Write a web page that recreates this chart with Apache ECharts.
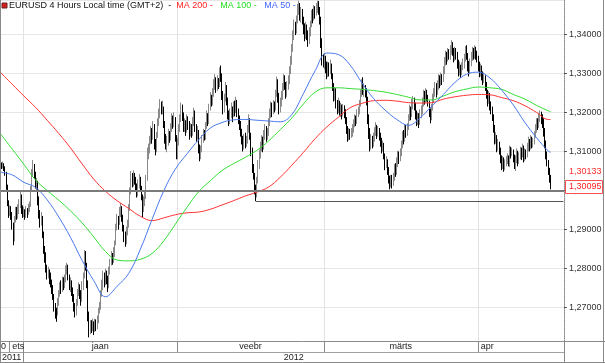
<!DOCTYPE html>
<html><head><meta charset="utf-8">
<script src="https://cdn.jsdelivr.net/npm/echarts@6/dist/echarts.min.js"></script>
<style>html,body{margin:0;padding:0;background:#fff}#c{width:605px;height:363px}</style>
</head><body><div id="c"></div>
<script>
// ---- data: 4-hour bars, each [close, high, low]; open = previous close ----
const firstOpen = 1.3065;
const bars = [
// Dec 27 (last two bars)
[1.3068,1.3075,1.3058],[1.3062,1.3072,1.3055],
// Dec 28
[1.3066,1.3074,1.3056],[1.3058,1.3070,1.3050],[1.3045,1.3062,1.3038],[1.3010,1.3048,1.3002],[1.2968,1.3015,1.2960],[1.2942,1.2975,1.2930],
// Dec 29
[1.2955,1.2962,1.2935],[1.2938,1.2960,1.2925],[1.2912,1.2945,1.2900],[1.2878,1.2918,1.2860],[1.2925,1.2935,1.2870],[1.2948,1.2958,1.2918],
// Dec 30
[1.2935,1.2958,1.2925],[1.2952,1.2965,1.2928],[1.2968,1.2978,1.2940],[1.2985,1.2998,1.2955],[1.2950,1.2990,1.2940],[1.2940,1.2962,1.2930],
// Jan 2
[1.2945,1.2958,1.2932],[1.2935,1.2952,1.2925],[1.2948,1.2960,1.2930],[1.2942,1.2955,1.2930],[1.2955,1.2966,1.2938],[1.2962,1.2972,1.2945],
// Jan 3
[1.3005,1.3012,1.2958],[1.3045,1.3055,1.3000],[1.3062,1.3078,1.3035],[1.3040,1.3068,1.3030],[1.3018,1.3048,1.3005],[1.3020,1.3032,1.3000],
// Jan 4
[1.2975,1.3025,1.2962],[1.2940,1.2985,1.2928],[1.2922,1.2950,1.2905],[1.2930,1.2945,1.2910],[1.2890,1.2935,1.2878],[1.2850,1.2895,1.2838],
// Jan 5
[1.2835,1.2858,1.2815],[1.2800,1.2842,1.2790],[1.2785,1.2810,1.2772],[1.2792,1.2805,1.2775],[1.2778,1.2798,1.2760],[1.2765,1.2790,1.2752],
// Jan 6
[1.2750,1.2772,1.2735],[1.2728,1.2758,1.2720],[1.2705,1.2735,1.2690],[1.2690,1.2712,1.2672],[1.2685,1.2700,1.2664],[1.2712,1.2725,1.2680],
// Jan 9
[1.2735,1.2745,1.2705],[1.2752,1.2765,1.2728],[1.2745,1.2770,1.2735],[1.2768,1.2780,1.2740],[1.2760,1.2778,1.2745],[1.2772,1.2785,1.2750],
// Jan 10
[1.2795,1.2808,1.2765],[1.2805,1.2815,1.2785],[1.2780,1.2810,1.2770],[1.2758,1.2785,1.2745],[1.2765,1.2778,1.2740],[1.2745,1.2770,1.2730],
// Jan 11
[1.2728,1.2752,1.2715],[1.2700,1.2735,1.2690],[1.2690,1.2712,1.2675],[1.2712,1.2722,1.2680],[1.2735,1.2748,1.2705],[1.2748,1.2765,1.2730],
// Jan 12
[1.2735,1.2760,1.2722],[1.2722,1.2745,1.2705],[1.2755,1.2768,1.2715],[1.2780,1.2790,1.2745],[1.2832,1.2848,1.2775],[1.2805,1.2845,1.2795],
// Jan 13
[1.2760,1.2815,1.2750],[1.2680,1.2770,1.2665],[1.2640,1.2690,1.2624],[1.2655,1.2668,1.2632],[1.2648,1.2668,1.2635],[1.2660,1.2672,1.2640],
// Jan 16
[1.2648,1.2665,1.2630],[1.2660,1.2672,1.2638],[1.2652,1.2670,1.2640],[1.2668,1.2680,1.2645],[1.2690,1.2700,1.2660],[1.2702,1.2715,1.2685],
// Jan 17
[1.2735,1.2745,1.2695],[1.2758,1.2772,1.2728],[1.2780,1.2795,1.2745],[1.2765,1.2790,1.2752],[1.2785,1.2800,1.2758],[1.2772,1.2795,1.2760],
// Jan 18
[1.2758,1.2782,1.2740],[1.2790,1.2805,1.2750],[1.2812,1.2825,1.2785],[1.2830,1.2845,1.2808],[1.2822,1.2840,1.2810],[1.2840,1.2855,1.2815],
// Jan 19
[1.2865,1.2872,1.2830],[1.2905,1.2915,1.2860],[1.2928,1.2940,1.2898],[1.2915,1.2935,1.2900],[1.2945,1.2958,1.2912],[1.2955,1.2968,1.2932],
// Jan 20
[1.2930,1.2960,1.2920],[1.2905,1.2938,1.2895],[1.2880,1.2912,1.2868],[1.2872,1.2895,1.2856],[1.2898,1.2908,1.2862],[1.2910,1.2925,1.2885],
// Jan 23
[1.2955,1.2965,1.2905],[1.2998,1.3008,1.2948],[1.3035,1.3050,1.2990],[1.3020,1.3045,1.3008],[1.3038,1.3052,1.3010],[1.3025,1.3045,1.3015],
// Jan 24
[1.3010,1.3035,1.2998],[1.2992,1.3018,1.2982],[1.3015,1.3028,1.2985],[1.3030,1.3042,1.3005],[1.3008,1.3035,1.2998],[1.2985,1.3012,1.2975],
// Jan 25
[1.2950,1.2990,1.2932],[1.2972,1.2985,1.2945],[1.2985,1.2998,1.2960],[1.3030,1.3040,1.2978],[1.3098,1.3110,1.3025],[1.3105,1.3120,1.3080],
// Jan 26
[1.3125,1.3140,1.3095],[1.3150,1.3165,1.3118],[1.3135,1.3160,1.3120],[1.3165,1.3178,1.3130],[1.3120,1.3170,1.3105],[1.3105,1.3132,1.3090],
// Jan 27
[1.3140,1.3150,1.3098],[1.3172,1.3185,1.3135],[1.3195,1.3210,1.3165],[1.3222,1.3234,1.3185],[1.3205,1.3228,1.3195],[1.3215,1.3230,1.3195],
// Jan 30
[1.3170,1.3212,1.3160],[1.3135,1.3178,1.3120],[1.3118,1.3145,1.3105],[1.3125,1.3140,1.3098],[1.3145,1.3158,1.3115],[1.3135,1.3152,1.3122],
// Jan 31
[1.3160,1.3172,1.3128],[1.3185,1.3198,1.3150],[1.3170,1.3192,1.3158],[1.3182,1.3200,1.3162],[1.3135,1.3188,1.3125],[1.3088,1.3142,1.3080],
// Feb 1
[1.3125,1.3135,1.3080],[1.3158,1.3170,1.3115],[1.3185,1.3195,1.3150],[1.3210,1.3225,1.3175],[1.3190,1.3220,1.3178],[1.3162,1.3200,1.3150],
// Feb 2
[1.3172,1.3185,1.3150],[1.3155,1.3180,1.3140],[1.3182,1.3195,1.3148],[1.3168,1.3190,1.3155],[1.3145,1.3178,1.3130],[1.3160,1.3172,1.3138],
// Feb 3
[1.3148,1.3170,1.3135],[1.3175,1.3188,1.3140],[1.3198,1.3212,1.3165],[1.3160,1.3205,1.3150],[1.3140,1.3170,1.3125],[1.3155,1.3165,1.3130],
// Feb 6
[1.3110,1.3140,1.3095],[1.3088,1.3118,1.3075],[1.3105,1.3115,1.3080],[1.3130,1.3142,1.3098],[1.3145,1.3158,1.3122],[1.3138,1.3155,1.3128],
// Feb 7
[1.3165,1.3175,1.3130],[1.3190,1.3205,1.3158],[1.3175,1.3198,1.3165],[1.3210,1.3222,1.3170],[1.3238,1.3252,1.3205],[1.3225,1.3245,1.3215],
// Feb 8
[1.3252,1.3262,1.3218],[1.3270,1.3285,1.3240],[1.3285,1.3298,1.3258],[1.3262,1.3290,1.3250],[1.3280,1.3295,1.3255],[1.3272,1.3288,1.3260],
// Feb 9
[1.3300,1.3315,1.3265],[1.3290,1.3320,1.3278],[1.3245,1.3300,1.3232],[1.3210,1.3255,1.3195],[1.3235,1.3248,1.3200],[1.3265,1.3278,1.3228],
// Feb 10
[1.3230,1.3270,1.3218],[1.3195,1.3238,1.3182],[1.3180,1.3205,1.3165],[1.3195,1.3210,1.3170],[1.3210,1.3225,1.3185],[1.3190,1.3215,1.3175],
// Feb 13
[1.3215,1.3228,1.3188],[1.3205,1.3230,1.3190],[1.3225,1.3240,1.3198],[1.3200,1.3232,1.3188],[1.3185,1.3210,1.3170],[1.3170,1.3192,1.3155],
// Feb 14
[1.3150,1.3178,1.3138],[1.3130,1.3158,1.3118],[1.3112,1.3140,1.3100],[1.3135,1.3145,1.3105],[1.3120,1.3148,1.3108],[1.3128,1.3140,1.3112],
// Feb 15
[1.3155,1.3168,1.3120],[1.3175,1.3195,1.3148],[1.3140,1.3185,1.3130],[1.3100,1.3148,1.3088],[1.3060,1.3110,1.3045],[1.3040,1.3068,1.3028],
// Feb 16
[1.3005,1.3045,1.2990],[1.2985,1.3015,1.2973],[1.3025,1.3035,1.2982],[1.3065,1.3078,1.3018],[1.3090,1.3105,1.3055],[1.3115,1.3125,1.3082],
// Feb 17
[1.3130,1.3142,1.3100],[1.3110,1.3138,1.3098],[1.3142,1.3155,1.3105],[1.3158,1.3170,1.3130],[1.3135,1.3165,1.3125],[1.3145,1.3160,1.3130],
// Feb 20
[1.3172,1.3185,1.3140],[1.3195,1.3210,1.3165],[1.3210,1.3228,1.3185],[1.3198,1.3225,1.3188],[1.3220,1.3232,1.3195],[1.3212,1.3228,1.3200],
// Feb 21
[1.3245,1.3258,1.3205],[1.3275,1.3292,1.3240],[1.3240,1.3285,1.3225],[1.3210,1.3250,1.3195],[1.3225,1.3238,1.3200],[1.3240,1.3255,1.3215],
// Feb 22
[1.3262,1.3275,1.3232],[1.3285,1.3298,1.3255],[1.3270,1.3295,1.3258],[1.3248,1.3278,1.3235],[1.3265,1.3280,1.3240],[1.3280,1.3295,1.3258],
// Feb 23
[1.3305,1.3318,1.3272],[1.3330,1.3345,1.3298],[1.3362,1.3375,1.3322],[1.3395,1.3410,1.3355],[1.3420,1.3438,1.3385],[1.3410,1.3432,1.3398],
// Feb 24
[1.3435,1.3448,1.3402],[1.3462,1.3478,1.3428],[1.3475,1.3486,1.3450],[1.3448,1.3480,1.3435],[1.3458,1.3470,1.3430],[1.3440,1.3465,1.3425],
// Feb 27
[1.3415,1.3445,1.3400],[1.3395,1.3428,1.3382],[1.3420,1.3432,1.3388],[1.3398,1.3425,1.3385],[1.3380,1.3410,1.3368],[1.3405,1.3418,1.3375],
// Feb 28
[1.3425,1.3435,1.3395],[1.3450,1.3462,1.3418],[1.3440,1.3465,1.3428],[1.3462,1.3475,1.3435],[1.3455,1.3472,1.3440],[1.3468,1.3480,1.3448],
// Feb 29
[1.3475,1.3486,1.3455],[1.3462,1.3485,1.3450],[1.3440,1.3470,1.3425],[1.3380,1.3445,1.3365],[1.3335,1.3390,1.3320],[1.3330,1.3350,1.3315],
// Mar 1
[1.3330,1.3352,1.3310],[1.3318,1.3345,1.3300],[1.3300,1.3330,1.3285],[1.3315,1.3330,1.3290],[1.3305,1.3328,1.3292],[1.3320,1.3335,1.3298],
// Mar 2
[1.3295,1.3325,1.3285],[1.3268,1.3300,1.3255],[1.3240,1.3275,1.3228],[1.3255,1.3265,1.3230],[1.3220,1.3262,1.3210],[1.3210,1.3232,1.3195],
// Mar 5
[1.3225,1.3238,1.3198],[1.3205,1.3230,1.3192],[1.3215,1.3225,1.3188],[1.3198,1.3220,1.3182],[1.3210,1.3222,1.3190],[1.3200,1.3218,1.3185],
// Mar 6
[1.3180,1.3208,1.3170],[1.3160,1.3188,1.3145],[1.3135,1.3165,1.3125],[1.3150,1.3160,1.3128],[1.3140,1.3158,1.3130],[1.3148,1.3160,1.3135],
// Mar 7
[1.3158,1.3170,1.3138],[1.3170,1.3182,1.3148],[1.3185,1.3195,1.3162],[1.3175,1.3192,1.3165],[1.3195,1.3208,1.3170],[1.3202,1.3215,1.3188],
// Mar 8
[1.3220,1.3232,1.3195],[1.3245,1.3258,1.3215],[1.3272,1.3285,1.3240],[1.3255,1.3290,1.3245],[1.3262,1.3275,1.3240],[1.3250,1.3270,1.3238],
// Mar 9
[1.3230,1.3262,1.3218],[1.3185,1.3240,1.3170],[1.3150,1.3195,1.3132],[1.3115,1.3160,1.3100],[1.3130,1.3145,1.3105],[1.3120,1.3140,1.3108],
// Mar 12
[1.3135,1.3148,1.3112],[1.3150,1.3162,1.3125],[1.3162,1.3175,1.3140],[1.3145,1.3168,1.3132],[1.3155,1.3165,1.3138],[1.3140,1.3160,1.3128],
// Mar 13
[1.3125,1.3148,1.3112],[1.3108,1.3135,1.3095],[1.3118,1.3128,1.3100],[1.3090,1.3122,1.3080],[1.3065,1.3095,1.3052],[1.3075,1.3088,1.3058],
// Mar 14
[1.3052,1.3080,1.3040],[1.3028,1.3060,1.3018],[1.3012,1.3038,1.3003],[1.3030,1.3040,1.3008],[1.3020,1.3040,1.3005],[1.3035,1.3045,1.3012],
// Mar 15
[1.3058,1.3068,1.3025],[1.3045,1.3070,1.3035],[1.3075,1.3085,1.3040],[1.3090,1.3102,1.3060],[1.3080,1.3100,1.3068],[1.3095,1.3108,1.3075],
// Mar 16
[1.3115,1.3128,1.3088],[1.3140,1.3152,1.3108],[1.3130,1.3155,1.3118],[1.3158,1.3170,1.3125],[1.3145,1.3168,1.3135],[1.3160,1.3172,1.3140],
// Mar 19
[1.3185,1.3195,1.3155],[1.3205,1.3220,1.3178],[1.3190,1.3215,1.3180],[1.3220,1.3235,1.3188],[1.3230,1.3242,1.3208],[1.3218,1.3238,1.3205],
// Mar 20
[1.3195,1.3225,1.3182],[1.3178,1.3205,1.3165],[1.3190,1.3200,1.3168],[1.3172,1.3198,1.3160],[1.3195,1.3208,1.3168],[1.3205,1.3218,1.3185],
// Mar 21
[1.3225,1.3238,1.3195],[1.3245,1.3258,1.3215],[1.3230,1.3255,1.3220],[1.3250,1.3262,1.3225],[1.3238,1.3258,1.3228],[1.3225,1.3245,1.3215],
// Mar 22
[1.3200,1.3230,1.3188],[1.3185,1.3210,1.3172],[1.3210,1.3222,1.3180],[1.3235,1.3248,1.3205],[1.3250,1.3262,1.3225],[1.3265,1.3278,1.3240],
// Mar 23
[1.3252,1.3275,1.3238],[1.3270,1.3282,1.3245],[1.3285,1.3298,1.3258],[1.3275,1.3295,1.3262],[1.3290,1.3302,1.3268],[1.3280,1.3298,1.3270],
// Mar 26
[1.3305,1.3318,1.3278],[1.3330,1.3342,1.3298],[1.3345,1.3358,1.3320],[1.3335,1.3355,1.3322],[1.3352,1.3365,1.3330],[1.3345,1.3362,1.3335],
// Mar 27
[1.3360,1.3372,1.3335],[1.3372,1.3385,1.3348],[1.3358,1.3380,1.3345],[1.3340,1.3365,1.3328],[1.3355,1.3368,1.3332],[1.3348,1.3365,1.3335],
// Mar 28
[1.3325,1.3355,1.3312],[1.3305,1.3335,1.3292],[1.3318,1.3330,1.3295],[1.3300,1.3322,1.3288],[1.3315,1.3328,1.3295],[1.3325,1.3338,1.3308],
// Mar 29
[1.3340,1.3350,1.3312],[1.3358,1.3370,1.3330],[1.3345,1.3372,1.3335],[1.3320,1.3352,1.3305],[1.3305,1.3332,1.3292],[1.3325,1.3338,1.3298],
// Mar 30
[1.3342,1.3355,1.3318],[1.3355,1.3368,1.3332],[1.3345,1.3365,1.3335],[1.3360,1.3372,1.3338],[1.3348,1.3368,1.3335],[1.3340,1.3358,1.3328],
// Apr 2
[1.3320,1.3345,1.3305],[1.3302,1.3330,1.3290],[1.3315,1.3325,1.3292],[1.3295,1.3320,1.3282],[1.3285,1.3305,1.3270],[1.3290,1.3302,1.3275],
// Apr 3
[1.3270,1.3295,1.3255],[1.3248,1.3278,1.3235],[1.3230,1.3258,1.3215],[1.3245,1.3255,1.3222],[1.3220,1.3250,1.3205],[1.3210,1.3228,1.3195],
// Apr 4
[1.3190,1.3215,1.3178],[1.3160,1.3195,1.3148],[1.3130,1.3168,1.3118],[1.3138,1.3150,1.3120],[1.3110,1.3142,1.3098],[1.3120,1.3132,1.3102],
// Apr 5
[1.3105,1.3125,1.3092],[1.3082,1.3110,1.3070],[1.3065,1.3090,1.3052],[1.3078,1.3088,1.3055],[1.3060,1.3085,1.3048],[1.3070,1.3080,1.3052],
// Apr 6
[1.3078,1.3088,1.3062],[1.3085,1.3095,1.3068],[1.3072,1.3090,1.3062],[1.3105,1.3115,1.3060],[1.3095,1.3112,1.3082],[1.3100,1.3110,1.3088],
// Apr 9
[1.3085,1.3105,1.3072],[1.3065,1.3092,1.3055],[1.3080,1.3090,1.3050],[1.3098,1.3108,1.3070],[1.3075,1.3102,1.3062],[1.3088,1.3098,1.3068],
// Apr 10
[1.3102,1.3112,1.3080],[1.3090,1.3110,1.3078],[1.3110,1.3120,1.3085],[1.3085,1.3115,1.3072],[1.3098,1.3108,1.3075],[1.3092,1.3105,1.3080],
// Apr 11
[1.3110,1.3122,1.3085],[1.3125,1.3138,1.3100],[1.3112,1.3132,1.3100],[1.3130,1.3142,1.3105],[1.3118,1.3138,1.3108],[1.3125,1.3135,1.3110],
// Apr 12
[1.3140,1.3152,1.3118],[1.3158,1.3170,1.3135],[1.3172,1.3185,1.3148],[1.3165,1.3185,1.3155],[1.3185,1.3198,1.3160],[1.3192,1.3205,1.3175],
// Apr 13
[1.3185,1.3202,1.3170],[1.3178,1.3195,1.3160],[1.3150,1.3185,1.3138],[1.3120,1.3160,1.3108],[1.3095,1.3128,1.3080],[1.3072,1.3100,1.3062],
// Apr 16
[1.3050,1.3078,1.3040],[1.3030,1.3058,1.3020],[1.30095,1.3040,1.3003]
];
const slotCount = 484;                 // bar slots on the time axis
const monthStarts = [20, 152, 278, 410];
const monthLabels = ['jaan', 'veebr', 'märts', 'apr'];
const prevCellStart = 8;
const prevLabels = ['0', 'ets'];
const yearLabels = ['2011', '2012'];
// moving averages, at these bar slots
const maSlots = [0,10,20,30,40,50,60,70,80,90,100,110,120,130,140,150,160,170,180,190,200,210,220,230,240,250,260,270,280,290,300,310,320,330,340,350,360,370,380,390,400,410,420,430,440,450,460,470,472];
const ma200 = [1.3302,1.3272,1.3242,1.3213,1.3180,1.3146,1.3109,1.3068,1.3029,1.2998,1.2974,1.2954,1.2934,1.2923,1.2930,1.2938,1.2943,1.2945,1.2952,1.2963,1.2974,1.2986,1.2996,1.3009,1.3034,1.3065,1.3098,1.3133,1.3163,1.3188,1.3212,1.3223,1.3230,1.3231,1.3229,1.3225,1.3224,1.3225,1.3234,1.3240,1.3244,1.3246,1.3245,1.3238,1.3230,1.3217,1.3200,1.3182,1.3182];
const ma100 = [1.3145,1.3106,1.3067,1.3027,1.3000,1.2975,1.2948,1.2917,1.2881,1.2844,1.2822,1.2820,1.2824,1.2839,1.2871,1.2914,1.2957,1.2997,1.3025,1.3051,1.3069,1.3085,1.3103,1.3127,1.3156,1.3186,1.3222,1.3252,1.3263,1.3263,1.3261,1.3259,1.3256,1.3252,1.3246,1.3239,1.3232,1.3232,1.3242,1.3253,1.3260,1.3265,1.3263,1.3259,1.3246,1.3234,1.3218,1.3204,1.3202];
const ma50 = [1.3047,1.3040,1.3021,1.3008,1.2976,1.2932,1.2880,1.2821,1.2769,1.2728,1.2755,1.2788,1.2850,1.2926,1.2999,1.3055,1.3094,1.3130,1.3160,1.3174,1.3181,1.3182,1.3180,1.3178,1.3176,1.3195,1.3249,1.3307,1.3352,1.3348,1.3321,1.3276,1.3236,1.3206,1.3182,1.3167,1.3186,1.3216,1.3246,1.3277,1.3298,1.3303,1.3288,1.3257,1.3219,1.3174,1.3135,1.3101,1.3098];
const hLevel = 1.30133;                // red horizontal level
const yMin = 1.261475, yMax = 1.348781;

// ---- build ----
const cats = Array.from({length: slotCount}, (_, i) => String(i));
const candles = bars.map((b, i) => {
  const o = i ? bars[i - 1][0] : firstOpen, c = b[0];
  return [o, c, Math.min(b[2], o, c), Math.max(b[1], o, c)];
});
const lastClose = bars[bars.length - 1][0];
let supIdx = monthStarts[1], supVal = Infinity;
for (let i = monthStarts[1]; i < monthStarts[2]; i++) if (bars[i][2] < supVal) { supVal = bars[i][2]; supIdx = i; }
const maData = arr => maSlots.map((s, k) => [String(s), arr[k]]);
const fmt = v => v.toFixed(5).replace('.', ',');
const FONT = 'Liberation Sans, Arial, sans-serif';

const chart = echarts.init(document.getElementById('c'), null, {renderer: 'canvas'});
const option = {
  animation: false,
  backgroundColor: '#fff',
  title: {
    left: 9, top: 1, padding: 0,
    text: '{t|EURUSD 4 Hours Local time (GMT+2)}{t|  -  }{r|MA 200 -}{t|   }{g|MA 100 -}{t|   }{b|MA 50 -}',
    textStyle: {
      fontSize: 9, fontFamily: FONT, fontWeight: 'normal',
      rich: {
        t: {color: '#111', fontSize: 9, fontFamily: FONT},
        r: {color: '#ff2222', fontSize: 9, fontFamily: FONT},
        g: {color: '#22dd22', fontSize: 9, fontFamily: FONT},
        b: {color: '#4466ff', fontSize: 9, fontFamily: FONT}
      }
    }
  },
  grid: {left: 0, top: 0, right: 41, bottom: 22, containLabel: false},
  xAxis: {
    type: 'category', data: cats, boundaryGap: true,
    axisLine: {show: false}, axisTick: {show: false}, axisLabel: {show: false},
    splitLine: {show: true, interval: (i) => monthStarts.includes(i), lineStyle: {color: '#e2e2e2', width: 1}}
  },
  yAxis: {
    type: 'value', position: 'right', min: yMin, max: yMax, scale: true,
    splitNumber: 9, minInterval: 0.01, maxInterval: 0.01,
    axisLine: {show: true, lineStyle: {color: '#888', type: 'dotted'}},
    axisTick: {show: true, length: 3, lineStyle: {color: '#555'}},
    axisLabel: {show: true, margin: 5, fontSize: 9, fontFamily: FONT, color: '#333', formatter: fmt, showMinLabel: false, showMaxLabel: false},
    splitLine: {show: true, lineStyle: {color: '#e6e6e6'}}
  },
  series: [
    {
      type: 'candlestick', data: candles, barWidth: 1.2,
      itemStyle: {color: '#8a8a8a', color0: '#000', borderColor: '#8a8a8a', borderColor0: '#000', borderWidth: 1},
      markLine: {
        silent: true, symbol: 'none', label: {show: false}, animation: false,
        data: [
          {yAxis: hLevel, lineStyle: {color: '#f08080', width: 1, type: 'solid'}},
          {yAxis: lastClose, lineStyle: {color: '#7a7a7a', width: 2, type: 'solid'}},
          [{coord: [String(supIdx), supVal], lineStyle: {color: '#555', width: 1, type: 'solid'}}, {coord: [String(slotCount - 1), supVal]}]
        ]
      },
      z: 3
    },
    {type: 'line', name: 'MA 200', data: maData(ma200), smooth: 0.4, showSymbol: false, lineStyle: {color: '#ff3333', width: 1}, z: 4},
    {type: 'line', name: 'MA 100', data: maData(ma100), smooth: 0.4, showSymbol: false, lineStyle: {color: '#33dd33', width: 1}, z: 4},
    {type: 'line', name: 'MA 50', data: maData(ma50), smooth: 0.4, showSymbol: false, lineStyle: {color: '#4a78ee', width: 1}, z: 4}
  ]
};
chart.setOption(option);

// ---- date axis rows and price labels, placed through the chart's scales ----
const cx = i => chart.convertToPixel({xAxisIndex: 0}, String(i));
const bw = cx(1) - cx(0);
const bx = i => cx(i) - bw / 2;
const py = v => chart.convertToPixel({yAxisIndex: 0}, v);
const plotR = cx(slotCount - 1) + bw / 2;
const plotB = py(yMin);
const W = 605, H = 363;
const r1 = Math.round(plotB) + 11, r2 = H - 0.5;
const g = [];
const line = (x1, y1, x2, y2, c) => g.push({type: 'line', silent: true, z: 10, shape: {x1, y1, x2, y2}, style: {stroke: c || '#8a8a8a', lineWidth: 1}});
const text = (x, y, s, align, color) => g.push({type: 'text', silent: true, z: 11, x, y, style: {text: s, fill: color || '#222', font: '9px ' + FONT, textAlign: align, textVerticalAlign: 'middle'}});
const vx = x => Math.round(x) + 0.5;
line(0, Math.round(plotB) + 0.5, W, Math.round(plotB) + 0.5);
line(0, r1 + 0.5, plotR, r1 + 0.5, '#a0a0a0');
line(0, r2, W, r2);
line(0.5, 0, 0.5, H);
line(W - 1.5, 0, W - 1.5, H);
line(vx(plotR), plotB, vx(plotR), H);
[prevCellStart].concat(monthStarts).forEach(i => line(vx(bx(i)), plotB, vx(bx(i)), r1, '#8a8a8a'));
line(vx(bx(monthStarts[0])), r1, vx(bx(monthStarts[0])), H);
const m1 = Math.round(plotB) + 6, m2 = r1 + 6;
text(1, m1, prevLabels[0], 'left');
text(bx(prevCellStart) + 3, m1, prevLabels[1], 'left');
for (let k = 0; k < 3; k++) text((bx(monthStarts[k]) + bx(monthStarts[k + 1])) / 2, m1, monthLabels[k], 'center');
text(bx(monthStarts[3]) + 3, m1, monthLabels[3], 'left');
text(2, m2, yearLabels[0], 'left');
text((bx(monthStarts[0]) + plotR) / 2, m2, yearLabels[1], 'center');
// icon
g.push({type: 'rect', silent: true, z: 11, shape: {x: 2, y: 3, width: 5, height: 5}, style: {fill: '#d02020', stroke: '#702020', lineWidth: 1}});
// price labels on the right
const yl = Math.round(py(lastClose));
text(plotR + 5, py(hLevel) - 14, fmt(hLevel), 'left', '#ff3030');
g.push({type: 'rect', silent: true, z: 11, shape: {x: Math.round(plotR) + 1.5, y: yl - 6.5, width: 37, height: 13}, style: {fill: '#fff', stroke: '#ff5050', lineWidth: 1}});
text(plotR + 5, yl, fmt(lastClose), 'left', '#ff2020');
chart.setOption({graphic: g});
</script></body></html>
